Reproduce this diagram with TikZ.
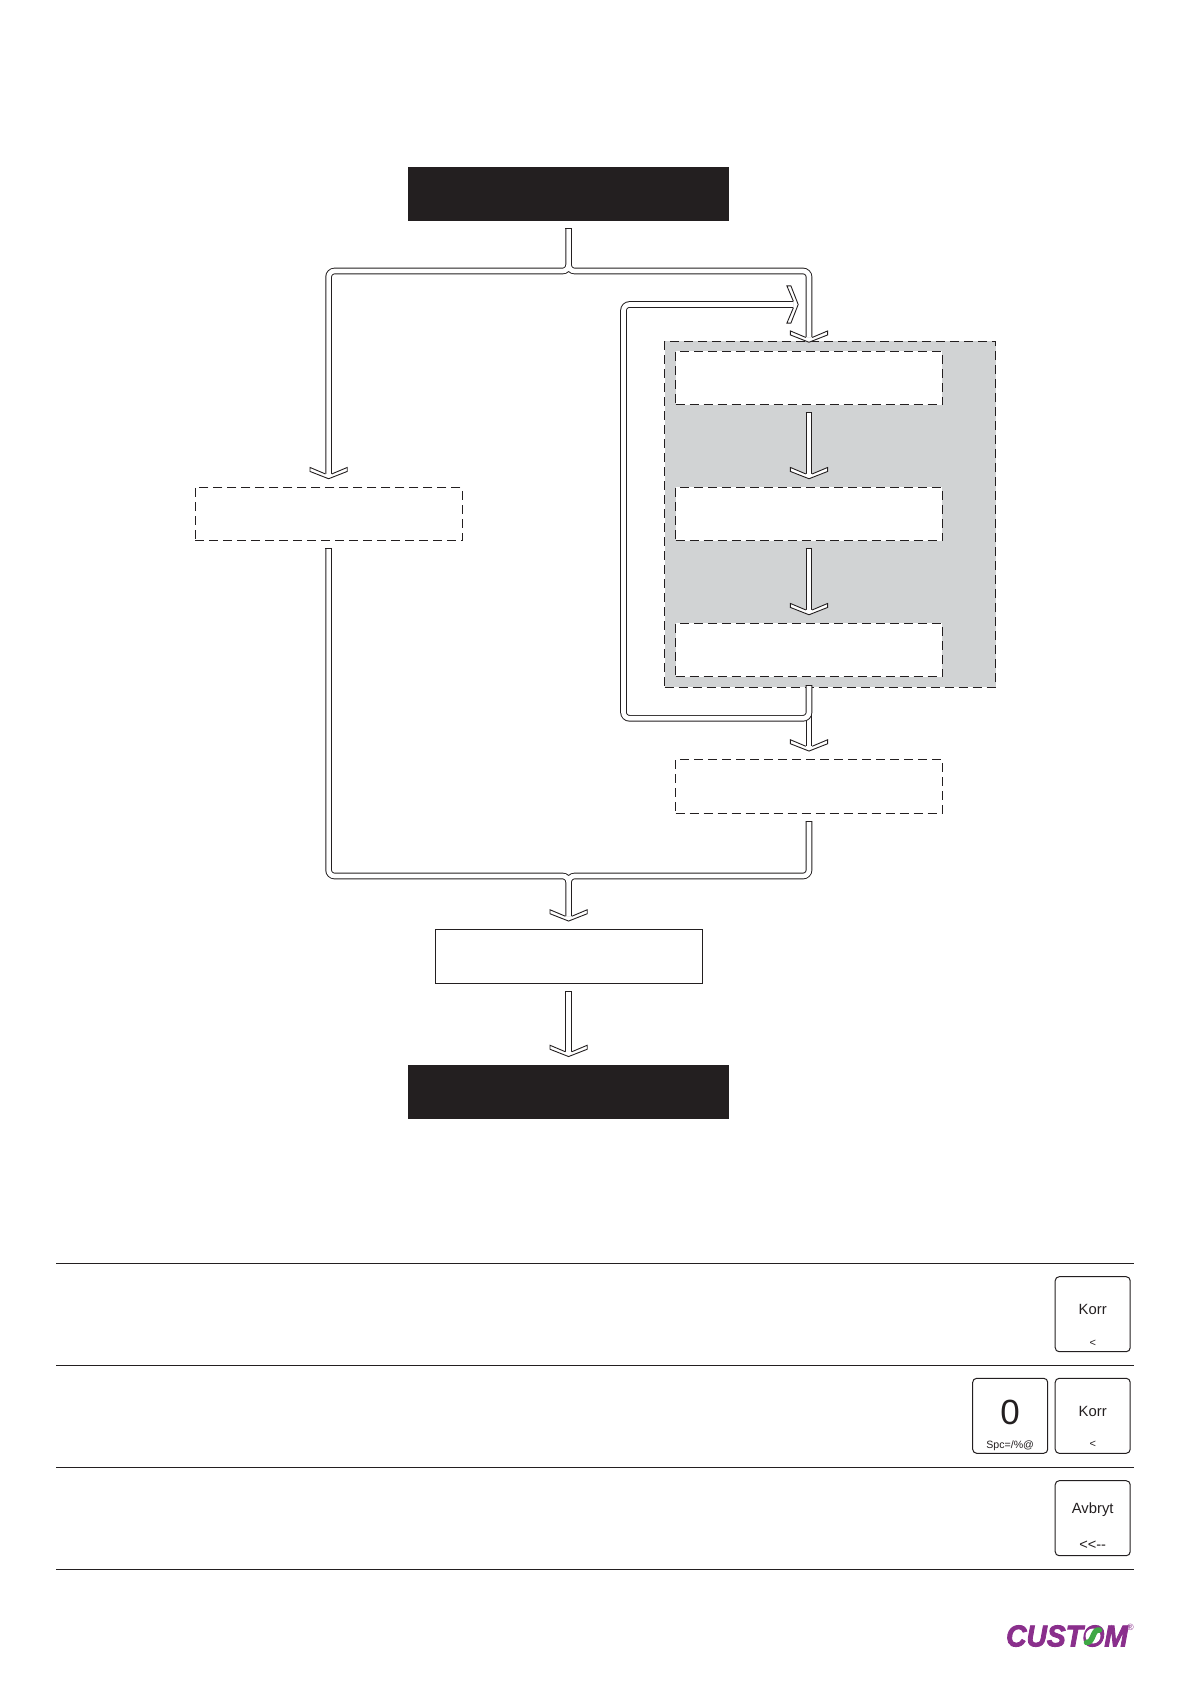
\documentclass[tikz,border=0pt]{standalone}
\usepackage{fontspec}
\setmainfont{Liberation Sans}
\newfontfamily\logofont[UprightFont={* Bold Italic},FakeBold=3]{Liberation Sans}
\usetikzlibrary{positioning}
\definecolor{ink}{HTML}{231F20}
\definecolor{panelgrey}{HTML}{D1D3D4}
\definecolor{logopurple}{HTML}{8A2F8C}
\definecolor{logogreen}{HTML}{3FA845}
\newcommand{\pipe}[1]{%
    \draw[pipeouter] #1;
    \draw[pipeinner] #1;%
}
\tikzset{
    blackbox/.style={fill=ink,draw=none,minimum width=320.5pt,minimum height=54.5pt,inner sep=0pt},
    dashbox/.style={draw=ink,line width=1pt,dash pattern=on 9pt off 5pt,fill=white,minimum width=266.8pt,minimum height=53.5pt,inner sep=0pt},
    panelbox/.style={draw=ink,line width=1pt,dash pattern=on 9pt off 5pt,fill=panelgrey,minimum width=331pt,minimum height=346pt,inner sep=0pt},
    plainbox/.style={draw=ink,line width=1pt,fill=white,minimum width=267.5pt,minimum height=53.5pt,inner sep=0pt},
    keybox/.style={draw=ink,line width=1pt,rounded corners=4pt,fill=white,minimum width=75pt,minimum height=75pt,inner sep=0pt},
    keytext/.style={anchor=base,text=ink,inner sep=0pt},
    rule/.style={draw=ink,line width=1pt},
    pipeouter/.style={draw=ink,line width=6.6pt,rounded corners=6pt},
    pipeinner/.style={draw=white,line width=4.7pt,rounded corners=6pt},
    pipecap/.style={draw=ink,line width=1pt},
    chevron/.pic={
        \draw[draw=ink,line width=0.9pt,fill=white,line join=miter]
            (-3.2,-4.8) -- (-18.6,-11.3) -- (-18.6,-7.3) -- (0,0) -- (18.6,-7.3) -- (18.6,-11.3) -- (3.2,-4.8);
    }
}
\begin{document}
\begin{tikzpicture}[x=1pt,y=-1pt]
\useasboundingbox (0,0) rectangle (1191,1685);
% flow boxes
\node[blackbox] (start) at (568.6,194) {};
\node[panelbox] (panel) at (830,514) {};
\node[dashbox] (first) at (809,378) {};
\node[dashbox,below=136pt of first.center,anchor=center] (second) {};
\node[dashbox,below=136pt of second.center,anchor=center] (third) {};
\node[dashbox,below=136.3pt of third.center,anchor=center] (fourth) {};
\node[dashbox] (leftbox) at (328.6,514) {};
\node[plainbox] (white) at (569,956.3) {};
\node[blackbox] (stop) at (568.6,1092) {};

% free ends of the pipes
\coordinate (outstart) at ([yshift=-7.5pt]start.south);
\coordinate (outleft) at ([yshift=-7.5pt]leftbox.south);
\coordinate (outfirst) at ([yshift=-7.5pt]first.south);
\coordinate (outsecond) at ([yshift=-7.5pt]second.south);
\coordinate (outpanel) at ([yshift=2.5pt]panel.south -| first.south);
\coordinate (outfourth) at ([yshift=-7.5pt]fourth.south);
\coordinate (outwhite) at ([yshift=-7.5pt]white.south -| start.south);
\coordinate (tipleft) at ([yshift=8pt]leftbox.north);
\coordinate (tipfirst) at ([yshift=8.5pt]first.north);
\coordinate (tipsecond) at ([yshift=8pt]second.north);
\coordinate (tipthird) at ([yshift=8pt]third.north);
\coordinate (tipfourth) at ([yshift=8pt]fourth.north);
\coordinate (tipwhite) at ([yshift=8pt]white.north -| start.south);
\coordinate (tipstop) at ([yshift=8pt]stop.north);
\coordinate (tiploop) at (798.2,304.5);

% pipes
\pipe{(outstart) |- (328.6,271) -- ([yshift=4.8pt]tipleft) (outstart) |- (809,271) -- ([yshift=4.8pt]tipfirst)}
\pipe{(outfirst) -- ([yshift=4.8pt]tipsecond)}
\pipe{(outsecond) -- ([yshift=4.8pt]tipthird)}
\pipe{(outpanel) -- ([yshift=4.8pt]tipfourth)}
\pipe{(outpanel) |- (623.5,718.3) |- ([xshift=-4.8pt]tiploop)}
\pipe{(outleft) |- (568.6,876) -- ([yshift=4.8pt]tipwhite) (outfourth) |- (568.6,876) -- ([yshift=4.8pt]tipwhite)}
\pipe{(outwhite) -- ([yshift=4.8pt]tipstop)}
\foreach \p in {outstart,outleft,outfirst,outsecond,outpanel,outfourth,outwhite}
    \draw[pipecap] ([xshift=-3.3pt]\p) -- ([xshift=3.3pt]\p);
\foreach \p in {tipleft,tipfirst,tipsecond,tipthird,tipfourth,tipwhite,tipstop}
    \pic at (\p) {chevron};
\pic[rotate=90] at (tiploop) {chevron};

% key table
\foreach \i/\y in {1/1263.3,2/1365.3,3/1467.3,4/1569.3}{
    \coordinate (ruleL\i) at (56,\y);
    \coordinate (ruleR\i) at (1133.7,\y);
    \draw[rule] (ruleL\i) -- (ruleR\i);
}
\node[keybox] (korrA) at (1092.7,1314.2) {};
\node[keybox] (korrB) at (1092.7,1415.8) {};
\node[keybox] (zero) at (1010.2,1415.8) {};
\node[keybox] (avbryt) at (1092.7,1518.2) {};
\node[keytext,font=\fontsize{14.8pt}{16pt}\selectfont] (korrAtop) at ([yshift=0.2pt]korrA.center) {Korr};
\node[keytext,font=\fontsize{11pt}{12pt}\selectfont] (korrAsub) at ([yshift=-31.8pt]korrA.center) {<};
\node[keytext,font=\fontsize{14.8pt}{16pt}\selectfont] (korrBtop) at ([yshift=-0.5pt]korrB.center) {Korr};
\node[keytext,font=\fontsize{11pt}{12pt}\selectfont] (korrBsub) at ([yshift=-31.8pt]korrB.center) {<};
\node[keytext,font=\fontsize{35pt}{37pt}\selectfont] (zerotop) at ([yshift=-9pt]zero.center) {0};
\node[keytext,font=\fontsize{10.6pt}{12pt}\selectfont] (zerosub) at ([yshift=-32.5pt]zero.center) {Spc=/\%@};
\node[keytext,font=\fontsize{14.8pt}{16pt}\selectfont] (avbryttop) at ([yshift=5pt]avbryt.center) {Avbryt};
\node[keytext,font=\fontsize{14.6pt}{16pt}\selectfont] (avbrytsub) at ([yshift=-31.5pt]avbryt.center) {<{}<{}-{}-};

% logo
\node[text=logopurple,inner sep=0pt,xscale=0.94,transform shape,font=\fontsize{30pt}{31pt}\logofont] (logo) at (1067,1636) {CUSTOM};
\fill[white,rotate around={25:(1093,1636)}] (1093,1636) ellipse [x radius=7.5pt,y radius=7.5pt];
\draw[logogreen,line width=5.5pt,line cap=round] (1099.5,1630) .. controls (1092,1629) and (1094,1642.5) .. (1086.5,1642.5);
\node[text=logopurple,inner sep=0pt,font=\fontsize{9pt}{10pt}\selectfont] (regmark) at (1130.5,1627.5) {®};
\end{tikzpicture}
\end{document}
